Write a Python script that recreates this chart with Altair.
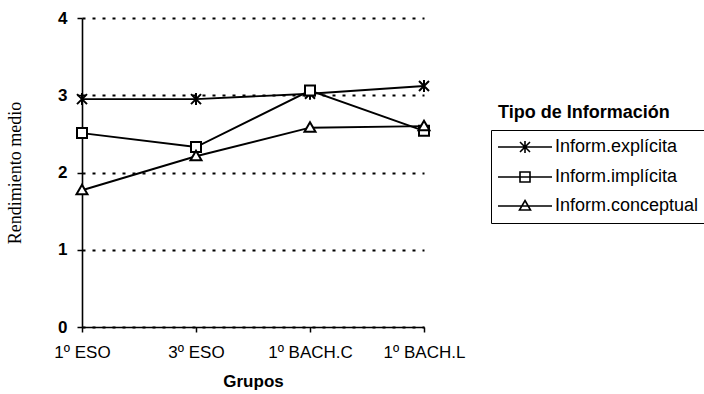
import altair as alt
import pandas as pd

groups = ["1º ESO", "3º ESO", "1º BACH.C", "1º BACH.L"]
series_names = ["Inform.explícita", "Inform.implícita", "Inform.conceptual"]
explicita = [2.95, 2.95, 3.02, 3.12]
implicita = [2.51, 2.33, 3.06, 2.54]
conceptual = [1.77, 2.21, 2.58, 2.60]
y_ticks = [0, 1, 2, 3, 4]
legend_title = "Tipo de Información"
x_title = "Grupos"
y_title = "Rendimiento medio"

rows = []
for name, vals in zip(series_names, [explicita, implicita, conceptual]):
    for g, v in zip(groups, vals):
        rows.append({"grupo": g, "serie": name, "valor": v})
df = pd.DataFrame(rows)

star = "M-1,-1L1,1M-1,1L1,-1M0,-1.2L0,1.2"
square = "M-1,-1L1,-1L1,1L-1,1Z"
tri = "M0,-1.1L1.1,0.8L-1.1,0.8Z"
marker_paths = [star, square, tri]
leg_line = "M-5.4,0L5.4,0"
legend_paths = [leg_line + star, leg_line + square, leg_line + tri]

x_enc = alt.X("grupo:N", sort=groups,
              scale=alt.Scale(domain=groups, padding=0),
              axis=alt.Axis(title=x_title, labelAngle=0, grid=False,
                            domainColor="black", domainWidth=1.6,
                            tickColor="black", tickSize=5, tickWidth=1.5,
                            labelFont="Liberation Sans", labelFontSize=17,
                            labelColor="black", labelPadding=12,
                            titleFont="Liberation Sans", titleFontSize=17,
                            titleFontWeight="bold", titleColor="black",
                            titlePadding=13))
y_enc = alt.Y("valor:Q", scale=alt.Scale(domain=[0, 4], nice=False),
              axis=alt.Axis(title=y_title, values=y_ticks, format="d",
                            grid=True, gridColor="black", gridDash=[3, 7],
                            gridWidth=2,
                            domainColor="black", domainWidth=1.6,
                            tickColor="black", tickSize=5, tickWidth=1.5,
                            labelFont="Liberation Sans", labelFontSize=17,
                            labelFontWeight="bold", labelColor="black",
                            labelPadding=10,
                            titleFont="Liberation Serif", titleFontSize=18,
                            titleFontWeight="normal", titleColor="black",
                            titleX=-67, titleBaseline="middle"))

base = alt.Chart(df)

lines = base.mark_line(color="black", strokeWidth=1.9).encode(
    x=x_enc, y=y_enc, detail="serie:N")

points = base.mark_point(filled=True, fill="white", stroke="black",
                         strokeWidth=2, size=100, opacity=1).encode(
    x=x_enc, y=y_enc,
    shape=alt.Shape("serie:N", scale=alt.Scale(domain=series_names, range=marker_paths),
                    legend=None))

legend_layer = base.transform_filter("false").mark_point(
    filled=False, color="black", strokeWidth=1.6, size=100, opacity=1).encode(
    x=x_enc, y=y_enc,
    shape=alt.Shape("serie:N", scale=alt.Scale(domain=series_names, range=legend_paths),
                    legend=alt.Legend(title=None, orient="none", legendX=409, legendY=112,
                                      strokeColor="black", padding=8,
                                      labelFont="Liberation Sans", labelFontSize=18,
                                      labelColor="black", rowPadding=11,
                                      symbolSize=100, symbolOffset=17, labelOffset=21,
                                      symbolStrokeColor="black", symbolStrokeWidth=1.6,
                                      symbolFillColor="transparent")))

title_text = alt.Chart(pd.DataFrame({"t": [legend_title]})).mark_text(
    align="left", baseline="middle", font="Liberation Sans", fontSize=18,
    fontWeight="bold", color="black").encode(
    x=alt.value(416), y=alt.value(95), text="t:N")

chart = alt.layer(lines, points, legend_layer, title_text).resolve_scale(
    shape="independent").properties(
    width=342, height=309,
    autosize=alt.AutoSizeParams(type="none"),
    padding={"left": 82, "top": 18, "right": 280, "bottom": 67},
    background="white",
).configure_view(stroke=None)

chart.save("out.html", embed_options={"renderer": "svg", "actions": False})
